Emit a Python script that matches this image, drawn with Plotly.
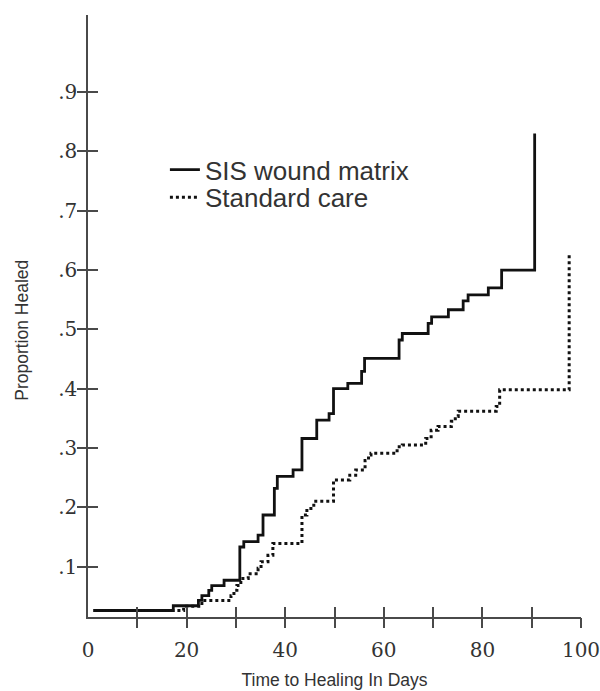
import plotly.graph_objects as go

# Kaplan-Meier style step data (days, proportion healed)
sis_days = [1.1, 17.3, 22.4, 23.1, 24.5, 25.1, 27.6, 30.8, 31.6, 34.5, 35.5, 37.8, 38.4, 41.6,
            43.4, 46.4, 48.9, 49.8, 52.7, 55.5, 56.1, 63.1, 63.75, 69.0, 69.7, 73.1, 76.1, 77.1,
            81.2, 83.9, 90.6]
sis_vals = [0.026, 0.034, 0.043, 0.051, 0.060, 0.068, 0.077, 0.133, 0.142, 0.153, 0.187, 0.232,
            0.252, 0.263, 0.316, 0.347, 0.358, 0.400, 0.409, 0.429, 0.451, 0.482, 0.493, 0.510,
            0.521, 0.533, 0.548, 0.558, 0.570, 0.600, 0.830]

std_days = [1.1, 19.4, 23.1, 29.0, 29.6, 30.2, 31.0, 32.5, 34.5, 35.1, 36.5, 37.5, 43.4, 44.4,
            45.8, 49.8, 53.1, 54.3, 56.2, 56.9, 57.4, 62.7, 63.75, 68.5, 69.6, 71.0, 73.7, 74.5,
            75.1, 82.8, 83.5, 97.6]
std_vals = [0.026, 0.033, 0.043, 0.051, 0.060, 0.068, 0.080, 0.088, 0.097, 0.108, 0.119, 0.139,
            0.187, 0.198, 0.210, 0.246, 0.254, 0.263, 0.279, 0.288, 0.291, 0.302, 0.305, 0.316,
            0.330, 0.336, 0.345, 0.353, 0.362, 0.370, 0.398, 0.630]

x_label_vals = [0, 20, 40, 60, 80, 100]
x_label_text = ["0", "20", "40", "60", "80", "100"]
x_tick_vals = [10, 20, 30, 40, 50, 60, 70, 80, 90, 100]
y_tick_vals = [0.1, 0.2, 0.3, 0.4, 0.5, 0.6, 0.7, 0.8, 0.9]
y_tick_text = [".1", ".2", ".3", ".4", ".5", ".6", ".7", ".8", ".9"]

X_RANGE = [0, 100]
Y_RANGE = [0.015, 1.03]

SANS = "Liberation Sans, Arial, sans-serif"
SERIF = "DejaVu Serif, serif"
AX = "#4a4a4a"
TXT = "#333333"

fig = go.Figure()
fig.add_trace(go.Scatter(x=sis_days, y=sis_vals, mode="lines", name="SIS wound matrix",
                         legend="legend",
                         line=dict(color="#111111", width=2.8, shape="hv")))
fig.add_trace(go.Scatter(x=std_days, y=std_vals, mode="lines", name="Standard care",
                         legend="legend2",
                         line=dict(color="#111111", width=3, shape="hv", dash="dot")))

# invisible helpers so that the tick-only overlay axes get drawn
for xa, ya in [("x2", "y"), ("x3", "y"), ("x", "y2"), ("x", "y3")]:
    fig.add_trace(go.Scatter(x=[50], y=[0.5], xaxis=xa, yaxis=ya, mode="markers",
                             marker=dict(opacity=0), showlegend=False, hoverinfo="skip"))

tick_axis = dict(showgrid=False, zeroline=False, showline=False, showticklabels=False,
                 ticklen=10, tickwidth=1.5, tickcolor=AX)
legend_style = dict(xanchor="left", yanchor="top", font=dict(family=SANS, size=26, color=TXT),
                    bgcolor="rgba(0,0,0,0)", tracegroupgap=0)

fig.update_layout(
    width=600, height=691,
    margin=dict(l=88, r=19, t=15, b=74, autoexpand=False),
    paper_bgcolor="white", plot_bgcolor="white",
    showlegend=True,
    legend=dict(legend_style, x=0.156, y=0.782),
    legend2=dict(legend_style, x=0.156, y=0.736),
    xaxis=dict(range=X_RANGE, showgrid=False, zeroline=False, showline=True, linecolor=AX,
               linewidth=1.5, ticks="", tickvals=x_label_vals, ticktext=x_label_text,
               tickfont=dict(family=SERIF, size=20, color=TXT), ticklabelstandoff=14,
               ticklabeloverflow="allow",
               title=dict(text="Time to Healing In Days", font=dict(family=SANS, size=17.5, color=TXT),
                          standoff=13)),
    xaxis2=dict(tick_axis, range=X_RANGE, overlaying="x", side="bottom", ticks="outside",
                tickvals=x_tick_vals),
    xaxis3=dict(tick_axis, range=X_RANGE, overlaying="x", side="bottom", ticks="inside",
                tickvals=x_tick_vals),
    yaxis=dict(range=Y_RANGE, showgrid=False, zeroline=False, showline=True, linecolor=AX,
               linewidth=1.5, ticks="", tickvals=y_tick_vals, ticktext=y_tick_text,
               tickfont=dict(family=SERIF, size=20, color=TXT), ticklabelstandoff=5),
    yaxis2=dict(tick_axis, range=Y_RANGE, overlaying="y", side="left", ticks="outside",
                tickvals=y_tick_vals),
    yaxis3=dict(tick_axis, range=Y_RANGE, overlaying="y", side="left", ticks="inside",
                tickvals=y_tick_vals),
    annotations=[dict(text="Proportion Healed", textangle=-90, xref="paper", yref="paper",
                      x=-0.134, y=0.477, xanchor="center", yanchor="middle", showarrow=False,
                      font=dict(family=SANS, size=17.5, color=TXT))],
)

fig.write_html("out.html", config={"displayModeBar": False},
               post_script="document.body.style.margin='0px';")
